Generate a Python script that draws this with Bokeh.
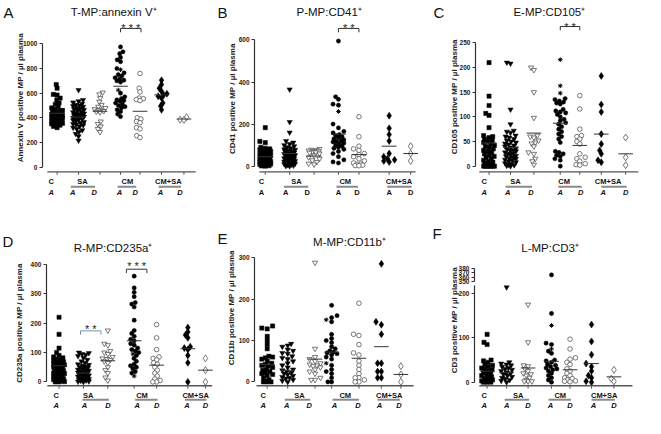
import numpy as np
from bokeh.plotting import figure
from bokeh.layouts import gridplot
from bokeh.models import Range1d, FixedTicker, LinearAxis
from bokeh.core.properties import value
from bokeh.embed import file_html
from bokeh.resources import INLINE

# ---------------- data ----------------
group_names = ["C", "SA", "CM", "CM+SA"]
sub_labels = ["A", "A", "D", "A", "D", "A", "D"]

# Panel A  T-MP:annexin V+
a_c = [670, 640, 590, 585, 560, 545, 520, 510, 490, 480, 470, 460, 455, 450, 445, 440, 435, 430, 425, 420,
       418, 415, 410, 405, 400, 398, 395, 390, 385, 380, 375, 370, 365, 360, 355, 350, 345, 340, 330, 320]
a_sa_a = [625, 545, 535, 525, 515, 505, 500, 495, 490, 480, 475, 470, 465, 460, 450, 445, 440, 435, 430, 425,
          420, 415, 410, 405, 400, 395, 390, 385, 380, 370, 365, 360, 350, 345, 340, 330, 320, 310, 300, 285,
          270, 250, 215]
a_sa_d = [605, 590, 560, 530, 505, 490, 480, 470, 465, 460, 455, 450, 445, 370, 350, 330, 310, 285]
a_cm_a = [975, 935, 920, 890, 870, 855, 800, 765, 750, 740, 725, 715, 705, 700, 690, 600, 570, 555, 545, 540,
          535, 520, 510, 500, 490, 480, 465, 450, 430, 410]
a_cm_a_star = [790, 625]
a_cm_d = [760, 640, 610, 560, 555, 548, 540, 400, 390, 370, 360, 320, 310, 255, 240]
a_cmsa_a = [705, 670, 640, 615, 595, 585, 575, 560, 520, 495, 465]
a_cmsa_d = [405, 385, 383]
a_mean = [437, 406, 453, 656, 453, 586, 390]

# Panel B  P-MP:CD41+
b_c = [183, 118, 112, 90, 85, 82, 80, 78, 75, 70, 68, 65, 62, 60, 58, 55, 52, 50, 48, 45, 42, 40, 38, 35, 32,
       30, 28, 25, 22, 20, 18, 15, 12, 10, 8, 6, 4, 2, 1, 0]
b_sa_a = [365, 210, 160, 120, 112, 105, 100, 95, 90, 85, 80, 78, 75, 72, 70, 65, 62, 60, 58, 55, 52, 50, 48, 45,
          42, 40, 38, 35, 32, 30, 28, 25, 22, 20, 18, 15, 12, 10, 8, 5, 3, 1, 0]
b_sa_d = [82, 78, 76, 74, 72, 70, 68, 66, 64, 60, 50, 42, 35, 28, 20, 12, 8]
b_cm_a = [595, 330, 318, 295, 290, 200, 182, 165, 158, 150, 145, 140, 135, 130, 125, 120, 118, 115, 110, 105,
          100, 95, 90, 85, 80, 70, 60, 45, 30, 20, 15]
b_cm_a_star = [260]
b_cm_d = [235, 140, 95, 82, 75, 60, 55, 45, 35, 25, 15, 10, 8, 5, 3, 2]
b_cmsa_a = [240, 180, 150, 120, 60, 45, 35, 30, 25, 20]
b_cmsa_d = [95, 60, 25]
b_mean = [45, 60, 48, 152, 55, 95, 60]

# Panel C  E-MP:CD105+
c_c = [210, 142, 123, 107, 103, 78, 62, 60, 58, 55, 52, 50, 48, 45, 42, 40, 38, 35, 32, 30, 28, 25, 22, 20, 18,
       15, 12, 10, 8, 5, 3, 2, 1, 0, 0, 0, 0, 0, 0, 0]
c_sa_a = [210, 208, 115, 85, 72, 70, 68, 62, 60, 58, 55, 52, 50, 48, 46, 44, 42, 40, 38, 36, 35, 33, 31, 30, 28,
          26, 25, 23, 21, 20, 18, 16, 15, 13, 12, 10, 8, 6, 5, 3, 2, 1, 0]
c_sa_d = [200, 195, 150, 98, 62, 60, 58, 52, 48, 46, 40, 28, 25, 15, 10, 3]
c_cm_a = [137, 135, 132, 130, 128, 126, 115, 112, 110, 108, 105, 100, 95, 92, 88, 85, 80, 75, 70, 65, 60, 55,
          48, 30, 28, 25, 22, 20, 15, 12, 0]
c_cm_a_star = [216, 163, 148]
c_cm_d = [143, 116, 75, 62, 60, 55, 50, 45, 25, 18, 15, 10, 5, 3, 2]
c_cmsa_a = [183, 125, 110, 65, 45, 32, 25, 12, 8]
c_cmsa_d = [58, 18, 2]
c_mean = [47, 38, 67, 87, 42, 65, 25]

# Panel D  R-MP:CD235a+
d_c = [220, 162, 115, 100, 90, 85, 82, 78, 75, 72, 68, 65, 62, 60, 58, 55, 52, 50, 48, 45, 42, 40, 38, 35, 32,
       30, 28, 25, 22, 20, 18, 15, 12, 10, 8, 5, 3, 1, 0, 0]
d_sa_a = [100, 98, 95, 92, 88, 82, 75, 70, 65, 60, 58, 55, 52, 50, 48, 45, 42, 40, 38, 36, 34, 32, 30, 28, 26,
          24, 22, 20, 18, 16, 14, 12, 10, 8, 6, 5, 4, 2, 1, 0]
d_sa_d = [175, 130, 125, 105, 100, 95, 85, 80, 78, 75, 70, 65, 50, 40, 30, 15, 5]
d_cm_a = [360, 320, 305, 290, 270, 265, 255, 210, 175, 165, 155, 145, 140, 130, 125, 115, 110, 105, 100, 90,
          80, 70, 60, 55, 50, 45, 35, 30]
d_cm_a_star = [95, 20]
d_cm_d = [195, 150, 110, 85, 80, 75, 65, 60, 50, 40, 30, 20, 10, 5, 0, 0]
d_cmsa_a = [185, 170, 160, 150, 120, 115, 110, 90, 65, 0]
d_cmsa_d = [80, 40, 0]
d_mean = [55, 30, 72, 140, 57, 113, 40]

# Panel E  M-MP:CD11b+
e_c = [135, 130, 128, 110, 100, 90, 80, 62, 60, 58, 55, 50, 45, 42, 40, 38, 35, 30, 28, 25, 22, 20, 18, 15, 10,
       5, 2, 0, 0, 0]
e_sa_a = [92, 88, 85, 78, 75, 70, 68, 62, 58, 55, 50, 45, 40, 35, 30, 28, 25, 22, 20, 18, 15, 12, 10, 8, 5, 3, 0]
e_sa_d = [288, 80, 60, 55, 50, 45, 42, 40, 38, 35, 30, 25, 20, 10, 5, 5]
e_cm_a = [185, 160, 155, 145, 115, 105, 100, 95, 85, 80, 75, 72, 70, 68, 65, 60, 55, 40, 30, 25, 20, 10, 0, 0]
e_cm_a_star = [150, 45]
e_cm_d = [190, 115, 112, 90, 70, 65, 50, 40, 30, 20, 10, 10, 5, 0, 0]
e_cmsa_a = [285, 145, 138, 115, 45, 45, 25, 25, 10, 10]
e_cmsa_d = [38, 18, 0]
e_mean = [42, 28, 55, 72, 57, 85, 18]

# Panel F  L-MP:CD3+
f_c = [108, 90, 85, 50, 48, 45, 40, 38, 35, 32, 30, 28, 25, 22, 20, 18, 15, 12, 10, 8, 5, 3, 2, 1, 0, 0, 0]
f_sa_a = [214, 45, 42, 40, 38, 35, 32, 30, 28, 25, 22, 20, 18, 15, 12, 10, 8, 5, 3, 0]
f_sa_d = [175, 90, 38, 36, 30, 25, 20, 18, 15, 10, 5, 2, 2, 2]
f_cm_a = [365, 155, 88, 85, 70, 65, 50, 48, 45, 40, 38, 35, 32, 30, 28, 25, 20, 15, 10, 5, 0]
f_cm_a_star = [128, 75]
f_cm_d = [97, 75, 55, 52, 45, 40, 30, 25, 20, 15, 10, 8, 5, 3, 2, 1]
f_cmsa_a = [130, 92, 62, 42, 35, 25, 15, 10, 2, 0]
f_cmsa_d = [28, 8, 2]
f_mean = [25, 22, 32, 47, 28, 42, 12]

f_ticks_low = [0, 100, 200]
f_ticks_high = [350, 360, 370, 380]

# ---------------- layout ----------------
sx, sy = 645 / 661, 418 / 434
W, H = 215, 209
FONT = "Liberation Sans"
AX_COL = "#333333"

styles = [
    dict(marker="square", size=4.2, fill_color="black", line_color="black", line_width=0.5),
    dict(marker="inverted_triangle", size=5.2, fill_color="black", line_color="black", line_width=0.5),
    dict(marker="inverted_triangle", size=5.2, fill_color="white", line_color="#555555", line_width=0.8),
    dict(marker="circle", size=4.2, fill_color="black", line_color="black", line_width=0.5),
    dict(marker="circle", size=4.6, fill_color="white", line_color="#555555", line_width=0.8),
    dict(marker="diamond", size=7, fill_color="black", line_color="black", line_width=0.5),
    dict(marker="diamond", size=7, fill_color="white", line_color="#555555", line_width=0.8),
]


def swarm(ys, d, maxw):
    n = len(ys)
    order = sorted(range(n), key=lambda i: ys[i])
    px, py = [], []
    out = [0.0] * n
    grid = np.linspace(-maxw, maxw, 13)
    for i in order:
        y = ys[i]
        cands = [0.0]
        for xp, yp in zip(px, py):
            dy = abs(y - yp)
            if dy < d:
                dx = (d * d - dy * dy) ** 0.5
                cands += [xp + dx, xp - dx]
        cands = sorted(set(round(c, 4) for c in cands), key=lambda c: (abs(c), c))
        chosen = None
        for c in cands:
            if abs(c) > maxw:
                continue
            if all((c - xp) ** 2 + (y - yp) ** 2 >= d * d - 1e-6 for xp, yp in zip(px, py)):
                chosen = c
                break
        if chosen is None:
            best = -1.0
            for c in grid:
                md = min((c - xp) ** 2 + (y - yp) ** 2 for xp, yp in zip(px, py))
                if md > best:
                    best, chosen = md, float(c)
        out[i] = chosen
        px.append(chosen)
        py.append(y)
    return out


def style_axis(ax):
    ax.major_label_text_font = FONT
    ax.major_label_text_font_style = "bold"
    ax.major_label_text_font_size = "6.5px"
    ax.major_label_text_color = "#222222"
    ax.major_label_standoff = 2
    ax.major_tick_out = 3
    ax.major_tick_in = 0
    ax.minor_tick_line_color = None
    ax.axis_line_color = AX_COL
    ax.major_tick_line_color = AX_COL
    ax.axis_line_width = 1.2


def txt(p, xs, ys, texts, font=FONT, size="7.5px", style="bold", align="center", baseline="middle",
        color="#111111", angle=0.0):
    p.text(x=xs, y=ys, text=texts, text_font=value(font), text_font_style=style, text_font_size=size,
           text_align=align, text_baseline=baseline, text_color=color, angle=angle)


def build(cfg, groups, stars, means, tf=lambda v: v):
    zero_m = cfg["zero"] * sy
    top_m = cfg["top"] * sy
    upp = cfg["ytop"] / (zero_m - top_m)

    def Y(ry):
        return (zero_m - ry * sy) * upp

    p = figure(width=W, height=H, x_range=Range1d(0, W / sx), y_range=Range1d(Y(H / sy), Y(0)),
               output_backend="svg", toolbar_location=None, x_axis_location=None, y_axis_location=None,
               min_border=0)
    p.outline_line_color = None
    p.xgrid.visible = False
    p.ygrid.visible = False
    p.background_fill_color = "white"
    p.border_fill_color = "white"

    ax = LinearAxis(fixed_location=cfg["axis"], bounds=cfg["bounds"], ticker=FixedTicker(ticks=cfg["ticks"]))
    style_axis(ax)
    p.add_layout(ax, "left")
    if "ticks2" in cfg:
        t2 = [tf(v) for v in cfg["ticks2"]]
        ax2 = LinearAxis(fixed_location=cfg["axis"], bounds=(t2[0] - 1, t2[-1]), ticker=FixedTicker(ticks=t2),
                         major_label_overrides={t: str(v) for t, v in zip(t2, cfg["ticks2"])})
        style_axis(ax2)
        p.add_layout(ax2, "left")

    # rotated axis title
    lx, ly = cfg["ylab_xy"]
    txt(p, [lx], [Y(ly)], [cfg["ylabel"]], size="8px", angle=np.pi / 2, color="#222222")

    cols = cfg["cols"]
    d_px = 3.8
    maxw = 5.4
    for k, vals in enumerate(groups):
        vals_t = [tf(v) for v in vals]
        extra = [tf(v) for v in stars] if k == 3 else []
        allv = vals_t + extra
        offs = swarm([v / upp for v in allv], d_px, maxw)
        xs = [cols[k] + o / sx for o in offs]
        n = len(vals_t)
        p.scatter(x=xs[:n], y=allv[:n], **styles[k])
        if extra:
            p.scatter(x=xs[n:], y=allv[n:], marker="asterisk", size=4.5, line_color="black", line_width=1)
        m = tf(means[k])
        p.segment(x0=[cols[k] - 7.5], x1=[cols[k] + 7.5], y0=[m], y1=[m], line_color="#333333", line_width=1)

    # x axis line and ticks
    xl0, xl1 = cfg["xline"]
    yl = Y(cfg["xline_y"])
    p.segment(x0=[xl0], x1=[xl1], y0=[yl], y1=[yl], line_color="#555555", line_width=1.3)
    p.segment(x0=cols, x1=cols, y0=[yl] * 7, y1=[Y(cfg["xline_y"] + 3)] * 7, line_color="#555555", line_width=1)

    # group labels
    subs = cfg["subs"]
    txt(p, cfg["names"], [Y(cfg["name_y"])] * 4, group_names)
    txt(p, subs, [Y(cfg["sub_y"])] * 7, sub_labels, style="bold italic" if cfg["italic"] else "bold")
    uy = Y(cfg["under_y"])
    ux0 = [subs[1] - 2, subs[3] - 2, subs[5] - 2]
    ux1 = [subs[2] + 1, subs[4] + 1, subs[6] + 1]
    p.segment(x0=ux0, x1=ux1, y0=[uy] * 3, y1=[uy] * 3, line_color="#8a8a8a", line_width=2)

    # significance brackets
    for br in cfg.get("brackets", []):
        bx0, bx1 = br["x"]
        by = Y(br["y"])
        bt = Y(br["y"] + 4)
        col = br.get("color", "#333333")
        p.segment(x0=[bx0, bx0, bx1], x1=[bx1, bx0, bx1], y0=[by, by, by], y1=[by, bt, bt],
                  line_color=col, line_width=1)
        txt(p, [(bx0 + bx1) / 2], [Y(br["sy"] + 6.5)], [br["t"]], size="11px", style="normal",
            baseline="alphabetic", color="#222222")

    # title and panel letter
    tl, ty = cfg["title_xy"]
    txt(p, [tl], [Y(ty)], [cfg["title"]], size="11.5px", style="normal", align="left")
    lx, ly = cfg["letter_xy"]
    txt(p, [lx], [Y(ly)], [cfg["letter"]], size="15px", style="normal", align="left")
    return p


top_row = dict(name_y=188, sub_y=199, xline_y=178, under_y=193.5)
bot_row = dict(name_y=193.5, sub_y=203, xline_y=183, under_y=197.5)

cfgA = dict(top_row, letter="A", title="T-MP:annexin V⁺", ylabel="Annexin V positive MP / µl plasma",
            axis=43, cols=[58, 80, 102, 123, 143, 165, 188], subs=[52, 74, 96, 122, 138, 164, 184],
            names=[52, 84, 130, 172], xline=(48, 200), top=45, zero=173, ytop=1000, bounds=(0, 1000),
            ticks=[0, 200, 400, 600, 800, 1000], title_xy=(72, 12), letter_xy=(3, 12), italic=True,
            ylab_xy=(20, 101), brackets=[dict(x=(123, 144), y=29, sy=22, t="* * *")])
cfgB = dict(top_row, letter="B", title="P-MP:CD41⁺", ylabel="CD41 positive MP / µl plasma",
            axis=40, cols=[51, 76, 101, 126, 147, 178, 200], subs=[47, 72, 94, 126, 145, 178, 200],
            names=[47, 83, 133, 188], xline=(45, 205), top=41, zero=172, ytop=600, bounds=(0, 600),
            ticks=[0, 200, 400, 600], title_xy=(83, 12), letter_xy=(2, 12), italic=False,
            ylab_xy=(17, 102), brackets=[dict(x=(126, 147), y=29, sy=22, t="* *")])
cfgC = dict(top_row, letter="C", title="E-MP:CD105⁺", ylabel="CD105 positive MP / µl plasma",
            axis=46, cols=[60, 82, 106, 133, 153, 175, 200], subs=[55, 79, 103, 133, 154, 177, 200],
            names=[55, 87, 137, 182], xline=(50, 213), top=44, zero=172, ytop=250, bounds=(0, 250),
            ticks=[0, 50, 100, 150, 200, 250], title_xy=(85, 12), letter_xy=(3, 12), italic=True,
            ylab_xy=(25, 100), brackets=[dict(x=(133, 153), y=27, sy=21, t="* *")])
cfgD = dict(bot_row, letter="D", title="R-MP:CD235a⁺", ylabel="CD235a positive MP / µl plasma",
            axis=47, cols=[60, 85, 110, 137, 160, 192, 210], subs=[57, 86, 110, 140, 160, 191, 210],
            names=[57, 90, 145, 200], xline=(48, 217), top=57, zero=179, ytop=400, bounds=(0, 400),
            ticks=[0, 100, 200, 300, 400], title_xy=(75, 40), letter_xy=(2, 33), italic=True,
            ylab_xy=(19, 118),
            brackets=[dict(x=(129, 150), y=62, sy=52, t="* * *"),
                      dict(x=(82, 103), y=126, sy=118, t="* *", color="#7b93b0")])
cfgE = dict(bot_row, letter="E", title="M-MP:CD11b⁺", ylabel="CD11b positive MP / µl plasma",
            axis=40, cols=[53, 74, 102, 119, 147, 170, 190], subs=[49, 73, 96, 122, 146, 168, 188],
            names=[49, 86, 133, 178], xline=(42, 203), top=50, zero=179, ytop=300, bounds=(0, 300),
            ticks=[0, 100, 200, 300], title_xy=(100, 34), letter_xy=(2, 30), italic=True, ylab_xy=(16, 102))
cfgF = dict(bot_row, letter="F", title="L-MP:CD3⁺", ylabel="CD3 positive MP / µl plasma",
            axis=45, cols=[58, 78, 100, 124, 143, 165, 188], subs=[55, 78, 100, 123, 143, 167, 188],
            names=[55, 90, 133, 178], xline=(50, 207), top=61, zero=179.3, ytop=257, bounds=(0, 219),
            ticks=f_ticks_low, ticks2=f_ticks_high, title_xy=(93, 40), letter_xy=(2, 25), italic=True,
            ylab_xy=(25, 115))


def f_tf(v):
    return v - 123 if v >= 300 else v


pA = build(cfgA, [a_c, a_sa_a, a_sa_d, a_cm_a, a_cm_d, a_cmsa_a, a_cmsa_d], a_cm_a_star, a_mean)
pB = build(cfgB, [b_c, b_sa_a, b_sa_d, b_cm_a, b_cm_d, b_cmsa_a, b_cmsa_d], b_cm_a_star, b_mean)
pC = build(cfgC, [c_c, c_sa_a, c_sa_d, c_cm_a, c_cm_d, c_cmsa_a, c_cmsa_d], c_cm_a_star, c_mean)
pD = build(cfgD, [d_c, d_sa_a, d_sa_d, d_cm_a, d_cm_d, d_cmsa_a, d_cmsa_d], d_cm_a_star, d_mean)
pE = build(cfgE, [e_c, e_sa_a, e_sa_d, e_cm_a, e_cm_d, e_cmsa_a, e_cmsa_d], e_cm_a_star, e_mean)
pF = build(cfgF, [f_c, f_sa_a, f_sa_d, f_cm_a, f_cm_d, f_cmsa_a, f_cmsa_d], f_cm_a_star, f_mean, tf=f_tf)

grid = gridplot([[pA, pB, pC], [pD, pE, pF]], toolbar_location=None)
open("out.html", "w").write(file_html(grid, INLINE))
